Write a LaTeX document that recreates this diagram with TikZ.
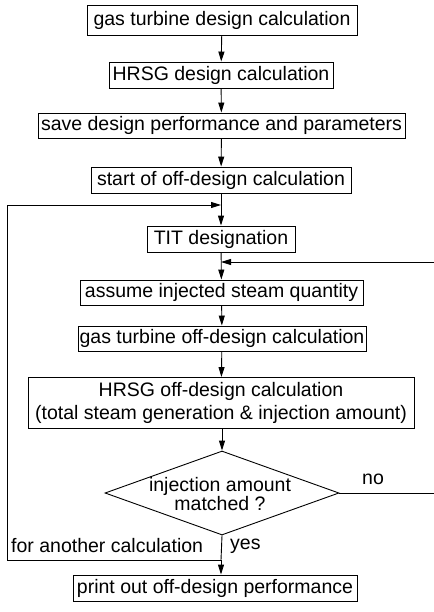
\documentclass[tikz,border=0pt]{standalone}
\usepackage{fontspec}
\setmainfont{Liberation Sans}
\usetikzlibrary{arrows.meta,shapes.geometric}
\tikzset{
  procbox/.style={draw, line width=0.9pt, inner sep=0pt, align=center,
    font=\fontsize{19.5}{23}\selectfont},
  decbox/.style={draw, diamond, line width=0.9pt, inner sep=0pt},
  flow/.style={line width=0.9pt, -{Triangle[length=10pt,width=6pt]}},
  plainline/.style={line width=0.9pt},
  lbl/.style={inner sep=0pt, font=\fontsize{19.5}{21}\selectfont}
}
\begin{document}
\begin{tikzpicture}[x=1pt,y=-1pt]
  \useasboundingbox (0,0) rectangle (433,612);

  % design-point chain
  \node[procbox, minimum width=270pt, minimum height=30pt] (gtd)   at (222,20)    {gas turbine design calculation};
  \node[procbox, minimum width=224pt, minimum height=26pt] (hrsgd) at (221,75)    {HRSG design calculation};
  \node[procbox, minimum width=367pt, minimum height=25pt] (save)  at (221.5,125.5) {save design performance and parameters};
  \node[procbox, minimum width=260pt, minimum height=26pt] (start) at (221,180)   {start of off-design calculation};

  % off-design iteration
  \node[procbox, minimum width=148pt, minimum height=26pt] (tit)   at (221,239)   {TIT designation};
  \node[procbox, minimum width=283pt, minimum height=25pt] (assume) at (221.5,292.5) {assume injected steam quantity};
  \node[procbox, minimum width=288pt, minimum height=25pt] (gtoff) at (222,338.5) {gas turbine off-design calculation};
  \node[procbox, minimum width=386pt, minimum height=51pt] (hrsgoff) at (221,403) {HRSG off-design calculation\\(total steam generation \& injection amount)};
  \node[decbox, minimum width=234pt, minimum height=84pt] (match) at (222,493) {};
  \node[lbl, align=center, font=\fontsize{19.5}{19.5}\selectfont] (matchtxt) at (220,494) {injection amount\\matched ?};
  \node[procbox, minimum width=284pt, minimum height=26pt] (print) at (215,588)   {print out off-design performance};

  % loop corner points
  \coordinate (ltop) at (221,205);
  \coordinate (rtop) at (221,262);
  \coordinate (junc) at (221,560);
  \coordinate (lcorner) at (7,560);
  \coordinate (lup) at (7,205);
  \coordinate (rcorner) at (437,493);
  \coordinate (rup) at (437,262);

  % main flow
  \draw[flow] (gtd) -- (hrsgd);
  \draw[flow] (hrsgd) -- (save);
  \draw[flow] (save) -- (start);
  \draw[flow] (start) -- (tit);
  \draw[flow] (tit) -- (assume);
  \draw[flow] (assume) -- (gtoff);
  \draw[flow] (gtoff) -- (hrsgoff);
  \draw[flow] (hrsgoff.south -| match.north) -- (match.north);
  \draw[plainline] (match.south) -- (junc);
  \draw[flow] (junc) -- (junc |- print.north);

  % return paths
  \draw[plainline] (junc) -- (lcorner) -- (lup);
  \draw[flow] (lup) -- (ltop);
  \draw[plainline] (match.east) -- (rcorner) -- (rup);
  \draw[flow] (rup) -- (rtop);

  % labels
  \node[lbl, anchor=west] (nolbl) at (362,479) {no};
  \node[lbl, anchor=west] (yeslbl) at (230,546) {yes};
  \node[lbl, anchor=west] (againlbl) at (11,546) {for another calculation};
\end{tikzpicture}
\end{document}
